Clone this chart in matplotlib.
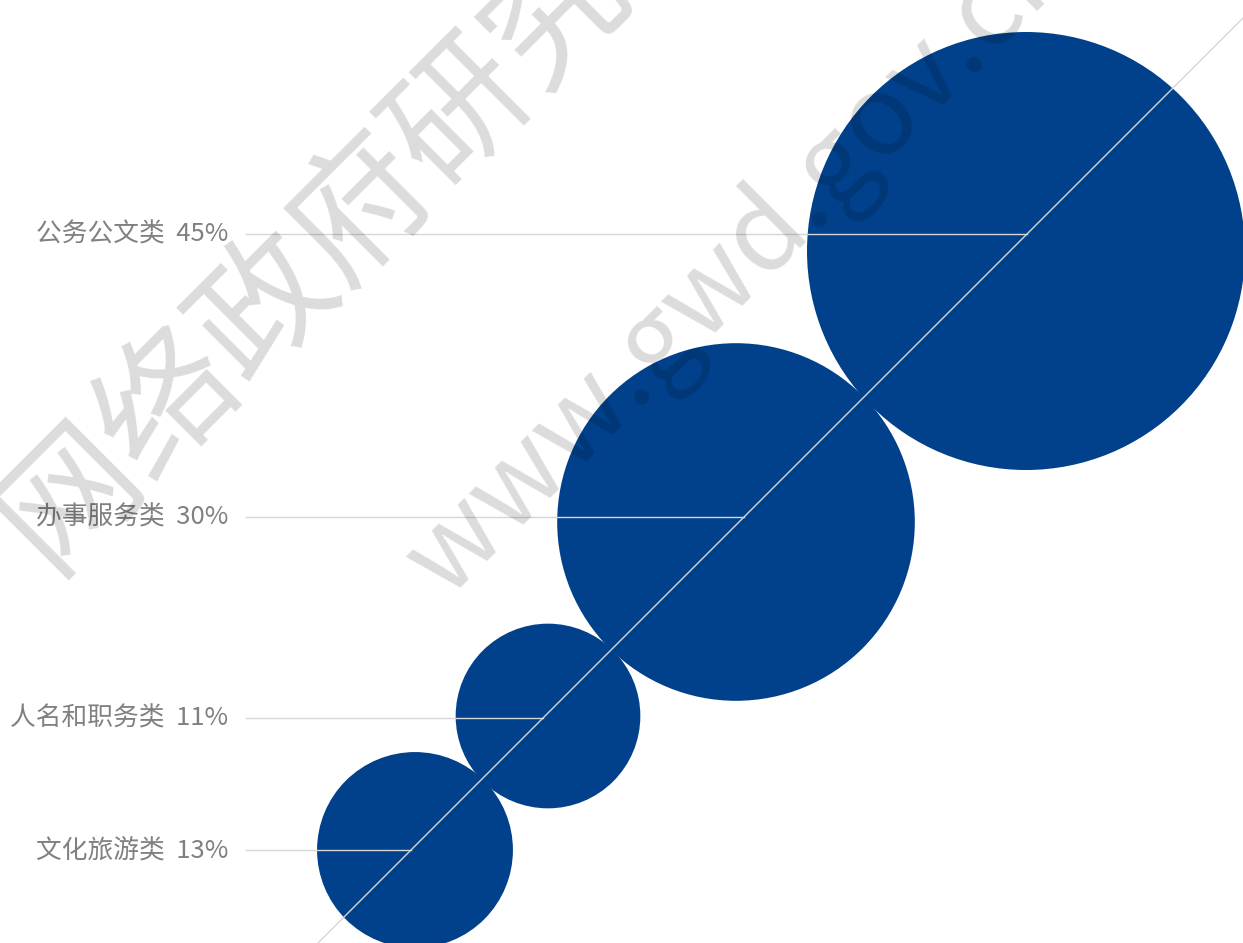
import matplotlib
matplotlib.use('Agg')
import matplotlib.pyplot as plt
from matplotlib.patches import Circle
import numpy as np

plt.rcParams['font.family'] = ['Noto Sans CJK SC', 'DejaVu Sans']

# data
categories = ['公务公文类', '办事服务类', '人名和职务类', '文化旅游类']
shares = ['45%', '30%', '11%', '13%']
bubble_x = [1026, 736, 548, 415]
bubble_y = [251, 522, 716, 850]
bubble_size = [45, 30, 8, 9]
label_y = [234, 517, 718, 850]

blue = '#01418B'
grey_line = '#D6D6D6'
text_col = '#808080'

fig = plt.figure(figsize=(12.43, 9.43), dpi=100)
ax = fig.add_axes([0, 0, 1, 1])
ax.set_xlim(0, 1243)
ax.set_ylim(943, 0)
ax.axis('off')

k = 219 / np.sqrt(45)
for x, y, s in zip(bubble_x, bubble_y, bubble_size):
    ax.add_patch(Circle((x, y), k * np.sqrt(s), color=blue, lw=0, zorder=2))

# diagonal guide
ax.axline((318, 943), (1261, 0), color=grey_line, lw=1, zorder=3)

# leader lines + labels
for cat, sh, y in zip(categories, shares, label_y):
    ax.plot([246, 1261 - y], [y, y], color=grey_line, lw=1, zorder=3)
    ax.text(228, y, cat + '  ' + sh, ha='right', va='center',
            fontsize=18.5, color=text_col, zorder=4)

# watermark
ax.text(22, 545, '网络政府研究院', rotation=45, rotation_mode='anchor',
        ha='left', va='center', fontsize=99, color='black', alpha=0.14, zorder=5)
ax.text(425, 578, 'www.gwd.gov.cn', rotation=45, rotation_mode='anchor',
        ha='left', va='center', fontsize=80, color='black', alpha=0.14, zorder=5)

fig.savefig('out.png', dpi=100)
